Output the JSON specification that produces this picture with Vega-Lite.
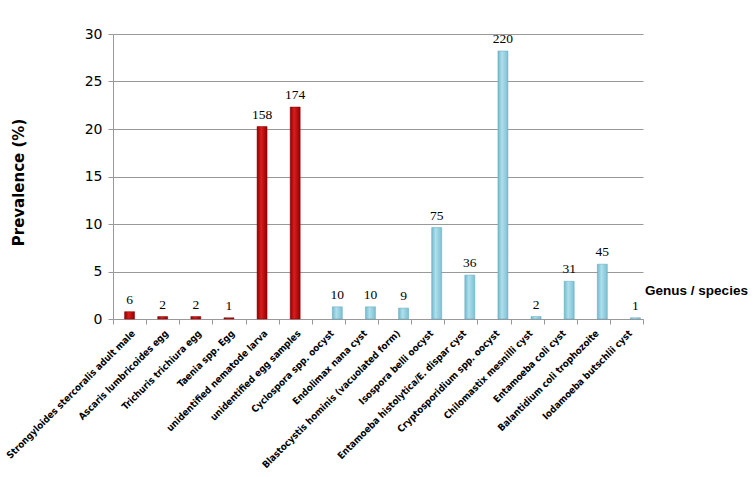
{
  "$schema": "https://vega.github.io/schema/vega-lite/v6.json",
  "autosize": "none",
  "width": 530,
  "height": 285,
  "padding": {"left": 113, "top": 34, "right": 113, "bottom": 158},
  "background": "white",
  "config": {"view": {"stroke": null}},
  "data": {"values": [
    {"species": "Strongyloides stercoralis adult male", "group": "Helminthes", "n": 6, "prev": 0.77},
    {"species": "Ascaris lumbricoides egg", "group": "Helminthes", "n": 2, "prev": 0.26},
    {"species": "Trichuris trichiura egg", "group": "Helminthes", "n": 2, "prev": 0.26},
    {"species": "Taenia spp. Egg", "group": "Helminthes", "n": 1, "prev": 0.13},
    {"species": "unidentified nematode larva", "group": "Helminthes", "n": 158, "prev": 20.26},
    {"species": "unidentified egg samples", "group": "Helminthes", "n": 174, "prev": 22.31},
    {"species": "Cyclospora spp. oocyst", "group": "Protozoa", "n": 10, "prev": 1.28},
    {"species": "Endolimax nana cyst", "group": "Protozoa", "n": 10, "prev": 1.28},
    {"species": "Blastocystis hominis (vacuolated form)", "group": "Protozoa", "n": 9, "prev": 1.15},
    {"species": "Isospora belli oocyst", "group": "Protozoa", "n": 75, "prev": 9.62},
    {"species": "Entamoeba histolytica/E. dispar cyst", "group": "Protozoa", "n": 36, "prev": 4.62},
    {"species": "Cryptosporidium spp. oocyst", "group": "Protozoa", "n": 220, "prev": 28.21},
    {"species": "Chilomastix mesnilli cyst", "group": "Protozoa", "n": 2, "prev": 0.26},
    {"species": "Entamoeba coli cyst", "group": "Protozoa", "n": 31, "prev": 3.97},
    {"species": "Balantidium coli trophozoite", "group": "Protozoa", "n": 45, "prev": 5.77},
    {"species": "Iodamoeba butschlii cyst", "group": "Protozoa", "n": 1, "prev": 0.13}
  ]},
  "encoding": {
    "x": {
      "field": "species", "type": "nominal", "sort": null,
      "scale": {"paddingInner": 0, "paddingOuter": 0},
      "axis": {
        "title": "Genus / species",
        "titleX": 583, "titleY": -29, "titleAlign": "center", "titleBaseline": "middle",
        "titleFont": "Liberation Sans", "titleFontSize": 13.5, "titleFontWeight": "bold", "titleColor": "black",
        "labelAngle": -45, "labelFont": "DejaVu Sans Condensed, Liberation Sans", "labelFontSize": 9.6, "labelFontWeight": "bold",
        "labelColor": "black", "labelPadding": 4, "labelLimit": 300,
        "domainColor": "#999999", "tickColor": "#999999", "tickSize": 5,
        "tickBand": "extent", "grid": false
      }
    },
    "y": {
      "field": "prev", "type": "quantitative",
      "scale": {"domain": [0, 30]},
      "axis": {
        "title": "Prevalence (%)", "values": [0, 5, 10, 15, 20, 25, 30],
        "titleX": -95, "titleY": 148, "titleAlign": "center", "titleBaseline": "middle", "titleAngle": -90,
        "titleFont": "DejaVu Sans", "titleFontSize": 15, "titleFontWeight": "bold", "titleColor": "black",
        "labelFont": "DejaVu Sans", "labelFontSize": 14, "labelColor": "black", "labelPadding": 6,
        "domainColor": "#999999", "tickColor": "#999999", "tickSize": 5,
        "grid": true, "gridColor": "#999999", "gridWidth": 1
      }
    },
    "color": {
      "field": "group", "type": "nominal",
      "scale": {"domain": ["Helminthes", "Protozoa"], "range": ["#C00000", "#92CDDC"]},
      "legend": {
        "title": null, "orient": "none", "legendX": 530, "legendY": 109,
        "symbolType": "square", "symbolSize": 64, "symbolStrokeWidth": 0,
        "labelFont": "Liberation Sans", "labelFontSize": 11.5, "labelColor": "black",
        "rowPadding": 6
      }
    }
  },
  "layer": [
    {
      "transform": [{"filter": "datum.group === 'Helminthes'"}],
      "mark": {"type": "bar", "width": 10, "stroke": "#8B0000", "strokeWidth": 0.5},
      "encoding": {"fill": {"value": {"gradient": "linear", "x1": 0, "x2": 1, "y1": 0, "y2": 0,
        "stops": [{"offset": 0, "color": "#8E0000"}, {"offset": 0.4, "color": "#D81E1E"}, {"offset": 1, "color": "#940000"}]}}}
    },
    {
      "transform": [{"filter": "datum.group === 'Protozoa'"}],
      "mark": {"type": "bar", "width": 10, "xOffset": 9, "stroke": "#5FA6BB", "strokeWidth": 0.5},
      "encoding": {"fill": {"value": {"gradient": "linear", "x1": 0, "x2": 1, "y1": 0, "y2": 0,
        "stops": [{"offset": 0, "color": "#74B9CD"}, {"offset": 0.4, "color": "#AEDFEC"}, {"offset": 1, "color": "#7CC0D3"}]}}}
    },
    {
      "transform": [{"filter": "datum.group === 'Helminthes'"}],
      "mark": {"type": "text", "baseline": "bottom", "dy": -5, "font": "Liberation Serif", "fontSize": 13.5, "color": "black"},
      "encoding": {"text": {"field": "n", "type": "quantitative"}, "color": {"value": "black"}}
    },
    {
      "transform": [{"filter": "datum.group === 'Protozoa'"}],
      "mark": {"type": "text", "baseline": "bottom", "dy": -5, "xOffset": 9, "font": "Liberation Serif", "fontSize": 13.5, "color": "black"},
      "encoding": {"text": {"field": "n", "type": "quantitative"}, "color": {"value": "black"}}
    }
  ]
}
